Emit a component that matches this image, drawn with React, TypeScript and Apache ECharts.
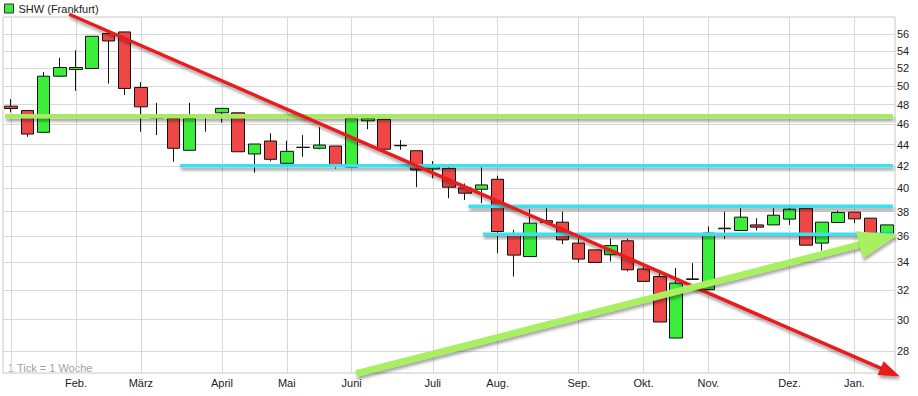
import React, { useEffect, useRef } from 'react';
import * as echarts from 'echarts';

// Weekly OHLC (1 Tick = 1 Woche)
const open = [47.85, 47.39, 45.19, 51.09, 51.84, 51.96, 56.08, 56.28, 49.85, 46.62, 46.59, 43.45, 46.7, 47.16, 47.16, 43.1, 44.34, 42.23, 43.72, 43.64, 43.86, 41.87, 46.34, 46.49, 43.88, 43.41, 41.71, 41.77, 40.02, 39.9, 40.78, 36.12, 34.44, 37.25, 37.13, 35.47, 34.95, 34.58, 35.65, 33.52, 32.97, 28.82, 32.76, 32.04, 36.6, 36.46, 36.91, 36.91, 37.38, 38.28, 35.47, 37.1, 37.95, 37.46, 36.25];
const close = [47.6, 45.02, 51.09, 52.07, 52.07, 55.75, 55.18, 49.74, 47.78, 46.68, 43.64, 46.59, 46.75, 47.62, 43.31, 44.05, 42.6, 43.35, 43.74, 43.95, 42.0, 46.59, 46.59, 43.55, 43.92, 41.62, 42.03, 40.08, 39.56, 40.28, 36.38, 34.55, 37.05, 37.1, 35.72, 34.25, 34.0, 35.28, 33.46, 32.62, 29.85, 32.5, 32.8, 36.25, 36.65, 37.54, 36.73, 37.7, 38.2, 35.31, 37.13, 37.92, 37.4, 36.25, 36.91];
const low = [47.2, 44.75, 45.19, 51.09, 49.48, 51.96, 50.28, 49.02, 45.25, 44.92, 42.38, 43.45, 45.25, 46.16, 43.31, 41.37, 42.4, 42.2, 42.84, 43.55, 41.74, 41.87, 45.5, 43.55, 43.5, 40.08, 40.87, 39.13, 38.98, 38.7, 34.7, 32.97, 34.44, 37.1, 35.4, 34.0, 34.0, 34.07, 33.35, 32.62, 29.85, 28.82, 32.75, 32.04, 35.79, 36.46, 36.46, 36.91, 36.91, 35.31, 34.9, 37.1, 37.05, 36.25, 36.25];
const high = [48.59, 47.39, 51.57, 53.18, 54.07, 55.75, 56.08, 56.28, 50.43, 48.2, 46.59, 48.2, 46.75, 47.62, 47.16, 44.05, 45.1, 44.37, 44.92, 45.7, 43.86, 46.59, 46.73, 46.49, 44.43, 43.41, 42.44, 42.06, 40.41, 42.0, 41.1, 36.51, 38.2, 38.28, 38.0, 35.82, 34.95, 35.82, 35.82, 33.7, 33.22, 33.59, 33.95, 36.78, 38.0, 38.58, 37.46, 38.28, 38.56, 38.47, 37.13, 38.08, 37.95, 37.46, 36.91];

const weekCategories = open.map((_, i) => 'W' + (i + 1));
const monthStartWeek = [4, 8, 13, 17, 21, 26, 30, 35, 39, 43, 48, 52];
const monthLabels = ['Feb.', 'März', 'April', 'Mai', 'Juni', 'Juli', 'Aug.', 'Sep.', 'Okt.', 'Nov.', 'Dez.', 'Jan.'];
const gridWeeks = [0, 4, 8, 13, 17, 21, 26, 30, 35, 39, 43, 48, 52];
const yTicks = [28, 30, 32, 34, 36, 38, 40, 42, 44, 46, 48, 50, 52, 54, 56];

// Drawn annotation lines (week index / price)
const levelValues = [46.8, 42.0, 38.45, 36.16];
const levelFromWeek = [-0.37, 10.42, 28.2, 29.1];
const levelToWeek = 54.38;
const redTrendWeeks = [3.58, 54.8];
const redTrendValues = [58.5, 26.49];
const greenTrendWeeks = [21.27, 54.69];
const greenTrendValues = [26.67, 36.12];

const FONT = 'Liberation Sans, Arial, sans-serif';

const annotationStyles = [
  { color: '#a8ea62', width: 4.5, head: 0, headW: 0 },
  { color: '#3fdfee', width: 3.5, head: 0, headW: 0 },
  { color: '#e81c1c', width: 3.5, head: 21, headW: 7.5 },
  { color: '#a8f060', width: 6.5, head: 40, headW: 14 },
];

export default function App() {
  const ref = useRef<HTMLDivElement>(null);
  useEffect(() => {
    if (!ref.current) return;
    const chart = echarts.init(ref.current, null, { renderer: 'svg' });

    const candleData = open.map((o, i) => [o, close[i], low[i], high[i]]);
    const annotationData: number[][] = [];
    levelValues.forEach((v, i) => {
      annotationData.push([levelFromWeek[i], v, levelToWeek, v, i === 0 ? 0 : 1]);
    });
    annotationData.push([redTrendWeeks[0], redTrendValues[0], redTrendWeeks[1], redTrendValues[1], 2]);
    annotationData.push([greenTrendWeeks[0], greenTrendValues[0], greenTrendWeeks[1], greenTrendValues[1], 3]);

    const labelOf = (i: number) => {
      const k = monthStartWeek.indexOf(i);
      return k >= 0 ? monthLabels[k] : '';
    };

    const option: any = {
      animation: false,
      backgroundColor: '#ffffff',
      legend: {
        data: ['SHW (Frankfurt)'],
        left: 4,
        top: 3,
        padding: 0,
        itemWidth: 9,
        itemHeight: 9,
        icon: 'rect',
        itemStyle: { borderColor: '#333', borderWidth: 1 },
        textStyle: { fontSize: 11, color: '#222', fontFamily: FONT },
      },
      grid: {
        left: 3,
        top: 17,
        width: 892,
        height: 356,
        show: true,
        borderColor: '#c8c8c8',
        borderWidth: 1,
      },
      xAxis: [
        {
          type: 'category',
          data: weekCategories,
          boundaryGap: true,
          axisLine: { show: false },
          axisTick: { show: false },
          splitLine: { show: false },
          axisLabel: {
            interval: 0,
            margin: 4,
            fontSize: 11,
            color: '#222',
            fontFamily: FONT,
            formatter: (_v: string, i: number) => labelOf(i),
          },
        },
        {
          type: 'value',
          min: -0.5,
          max: 54.5,
          show: false,
        },
      ],
      yAxis: {
        type: 'log',
        min: 26.7,
        max: 58.15,
        axisLabel: { show: false },
        splitLine: { show: false },
        axisLine: { show: false },
        axisTick: { show: false },
      },
      graphic: [
        {
          type: 'text',
          left: 8,
          top: 362,
          style: { text: '1 Tick = 1 Woche', fill: '#a0a0a0', fontSize: 11, fontFamily: FONT },
        },
      ],
      series: [
        {
          name: 'SHW (Frankfurt)',
          type: 'candlestick',
          xAxisIndex: 0,
          yAxisIndex: 0,
          barWidth: 13,
          z: 2,
          itemStyle: {
            color: '#3cee3c',
            color0: '#ef4646',
            borderColor: '#111',
            borderColor0: '#111',
            borderWidth: 1,
          },
          data: candleData,
          markLine: {
            silent: true,
            z: 1,
            symbol: 'none',
            animation: false,
            lineStyle: { color: '#d8d8d8', width: 1, type: 'solid' },
            emphasis: { disabled: true },
            data: [
              ...yTicks.map((v) => ({
                yAxis: v,
                label: {
                  show: true,
                  position: 'end',
                  distance: 2,
                  formatter: String(v),
                  color: '#222',
                  fontSize: 11,
                  fontFamily: FONT,
                },
              })),
              ...gridWeeks.map((w) => ({ xAxis: w, label: { show: false } })),
            ],
          },
        },
        {
          type: 'custom',
          xAxisIndex: 1,
          yAxisIndex: 0,
          z: 5,
          silent: true,
          clip: false,
          data: annotationData,
          renderItem: (_params: any, api: any) => {
            const a = api.coord([api.value(0), api.value(1)]);
            const b = api.coord([api.value(2), api.value(3)]);
            const s = annotationStyles[api.value(4)];
            const dx = b[0] - a[0];
            const dy = b[1] - a[1];
            const len = Math.hypot(dx, dy) || 1;
            const ux = dx / len;
            const uy = dy / len;
            const nx = -uy;
            const ny = ux;
            const shadow = {
              shadowBlur: 3,
              shadowColor: 'rgba(0,0,0,0.35)',
              shadowOffsetX: 1,
              shadowOffsetY: 3,
            };
            const children: any[] = [];
            let ex = b[0];
            let ey = b[1];
            if (s.head > 0) {
              ex = b[0] - ux * (s.head - 3);
              ey = b[1] - uy * (s.head - 3);
            }
            const hw = s.width / 2;
            children.push({
              type: 'polygon',
              shape: {
                points: [
                  [a[0] + nx * hw, a[1] + ny * hw],
                  [ex + nx * hw, ey + ny * hw],
                  [ex - nx * hw, ey - ny * hw],
                  [a[0] - nx * hw, a[1] - ny * hw],
                ],
              },
              style: { fill: s.color, ...shadow },
            });
            if (s.head > 0) {
              const bx = b[0] - ux * s.head;
              const by = b[1] - uy * s.head;
              children.push({
                type: 'polygon',
                shape: {
                  points: [
                    [b[0], b[1]],
                    [bx + nx * s.headW, by + ny * s.headW],
                    [bx - nx * s.headW, by - ny * s.headW],
                  ],
                },
                style: { fill: s.color, ...shadow },
              });
            }
            return { type: 'group', children };
          },
        },
      ],
    };

    chart.setOption(option);
    return () => chart.dispose();
  }, []);

  return (
    <div
      ref={ref}
      style={{ position: 'fixed', left: 0, top: 0, width: 918, height: 396, background: '#fff' }}
    />
  );
}
